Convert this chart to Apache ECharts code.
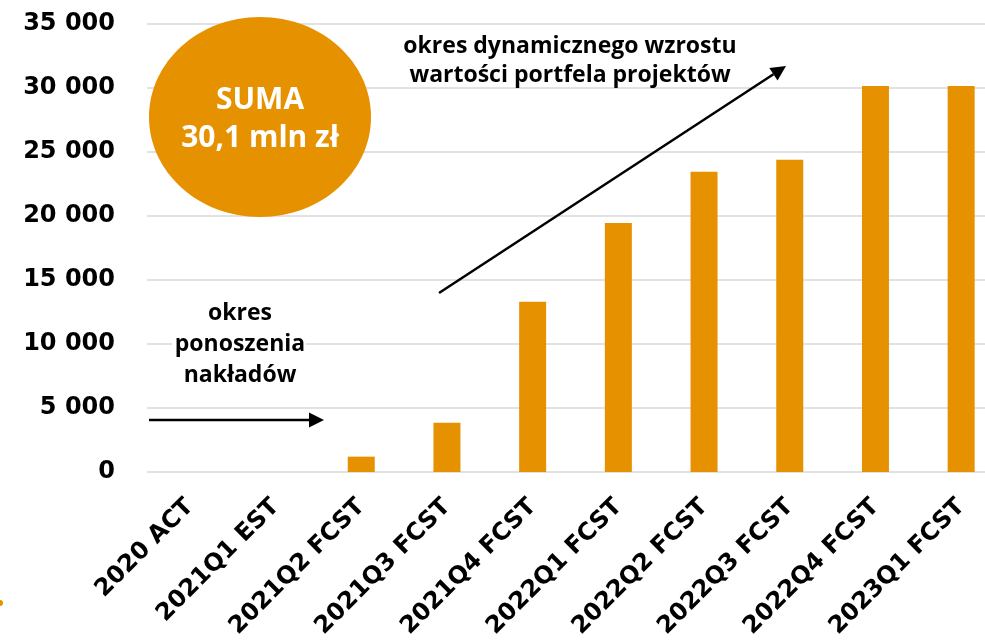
<!DOCTYPE html>
<html>
<head>
<meta charset="utf-8">
<script src="https://cdn.jsdelivr.net/npm/echarts@6/dist/echarts.min.js"></script>
<style>
  html, body { margin: 0; padding: 0; overflow: hidden; background: #fff; }
  #chart { width: 1004px; height: 644px; }
</style>
</head>
<body>
<div id="chart"></div>
<script>
const categories = ['2020 ACT', '2021Q1 EST', '2021Q2 FCST', '2021Q3 FCST', '2021Q4 FCST',
  '2022Q1 FCST', '2022Q2 FCST', '2022Q3 FCST', '2022Q4 FCST', '2023Q1 FCST']
const values = [0, 0, 1200, 3850, 13300, 19450, 23450, 24400, 30150, 30150]
const yTicks = { min: 0, max: 35000, interval: 5000 }

const ORANGE = '#E69100'
const axisFont = 'DejaVu Sans'
const noteFont = 'Open Sans'

// arrow = line + triangle head
function arrow(x1, y1, x2, y2) {
  const dx = x2 - x1, dy = y2 - y1
  const len = Math.sqrt(dx * dx + dy * dy)
  const ux = dx / len, uy = dy / len
  const hl = 15, hw = 7.5
  const bx = x2 - ux * hl, by = y2 - uy * hl
  return [
    { type: 'line', z: 20, shape: { x1: x1, y1: y1, x2: bx, y2: by }, style: { stroke: '#000', lineWidth: 2.5 } },
    { type: 'polygon', z: 20, shape: { points: [[x2, y2], [bx - uy * hw, by + ux * hw], [bx + uy * hw, by - ux * hw]] }, style: { fill: '#000' } }
  ]
}

function note(x, y, text, size, color) {
  return {
    type: 'text', x: x, y: y, z: 30,
    style: { text: text, fill: color || '#000', font: 'bold ' + size + 'px ' + noteFont, textAlign: 'center', textVerticalAlign: 'middle' }
  }
}

const chart = echarts.init(document.getElementById('chart'))
chart.setOption({
  animation: false,
  grid: { left: 147, right: 0, top: 24, bottom: 172 },
  xAxis: {
    type: 'category',
    data: categories,
    axisLine: { show: false },
    axisTick: { show: false },
    axisLabel: {
      interval: 0,
      rotate: 45,
      margin: 31,
      color: '#000',
      fontFamily: axisFont,
      fontWeight: 'bold',
      fontSize: 24
    }
  },
  yAxis: {
    type: 'value',
    min: yTicks.min,
    max: yTicks.max,
    interval: yTicks.interval,
    axisLine: { show: false },
    axisTick: { show: false },
    splitLine: { lineStyle: { color: '#d9d9d9', width: 1.5 } },
    axisLabel: {
      margin: 32,
      color: '#000',
      fontFamily: axisFont,
      fontWeight: 'bold',
      fontSize: 24,
      formatter: v => String(v).replace(/\B(?=(\d{3})+(?!\d))/g, ' ')
    }
  },
  series: [{
    type: 'bar',
    data: values,
    barWidth: 27,
    itemStyle: { color: ORANGE }
  }],
  graphic: [
    { type: 'ellipse', z: 20, shape: { cx: 260, cy: 117, rx: 111, ry: 100 }, style: { fill: ORANGE } },
    note(260, 100, 'SUMA', 30, '#fff'),
    note(260, 138, '30,1 mln zł', 30, '#fff'),
    note(570, 46, 'okres dynamicznego wzrostu', 23),
    note(570, 75, 'wartości portfela projektów', 23),
    { type: 'rect', z: 20, shape: { x: 172, y: 298, width: 134, height: 92 }, style: { fill: '#fff' } },
    note(240, 313, 'okres', 23),
    note(240, 344, 'ponoszenia', 23),
    note(240, 375, 'nakładów', 23),
    ...arrow(149, 420, 324, 420),
    ...arrow(439, 293, 786, 66),
    { type: 'circle', z: 20, shape: { cx: 0, cy: 603, r: 3 }, style: { fill: ORANGE } }
  ]
})
</script>
</body>
</html>
